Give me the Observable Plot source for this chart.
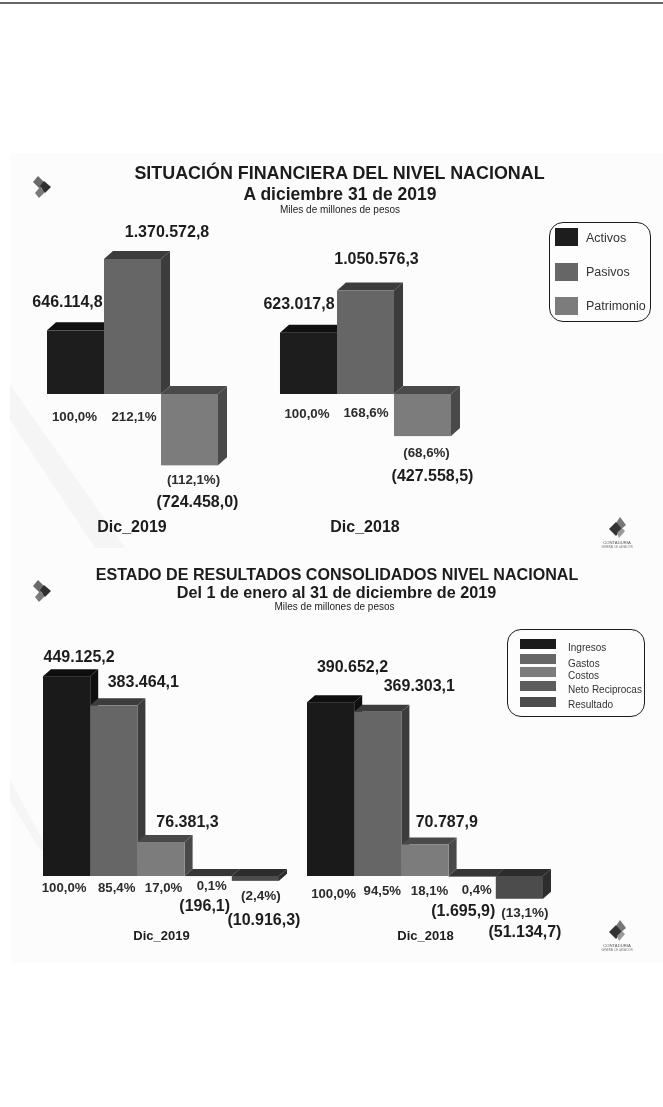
<!DOCTYPE html>
<html lang="es">
<head>
<meta charset="utf-8">
<script src="https://cdn.jsdelivr.net/npm/d3@7"></script>
<script src="https://cdn.jsdelivr.net/npm/@observablehq/plot@0.6"></script>
<style>
  html, body { margin: 0; padding: 0; background: #fff; }
  #page { position: relative; width: 663px; height: 1107px; overflow: hidden; font-family: "Liberation Sans", Arial, sans-serif; color: #1c1c1c; filter: blur(0.35px); }
  #topline { position: absolute; left: 0; top: 2px; width: 663px; height: 2px; background: #666; }
  #wash { position: absolute; left: 10px; top: 153px; width: 653px; height: 810px; background: #fcfcfc; }
  .t { position: absolute; transform: translateX(-50%); white-space: nowrap; line-height: 1; }
  .b { font-weight: bold; }
  .chart { position: absolute; left: 0; }
  .legend { position: absolute; box-sizing: border-box; border: 1.5px solid #1c1c1c; background: #fdfdfd; }
  .sw { position: absolute; }
  .lb { position: absolute; white-space: nowrap; line-height: 1; transform: translateY(-50%); color: #333; }
  #deco { position: absolute; left: 0; top: 0; }
</style>
</head>
<body>
<div id="page">
  <div id="topline"></div>
  <div id="wash"></div>
  <svg id="deco" width="663" height="1107"></svg>
</div>
<script>
// ---------- Data: situación financiera ----------
const periods = ["Dic_2019", "Dic_2018"];
const seriesA = ["Activos", "Pasivos", "Patrimonio"];
const colorsA = ["#1d1d1d", "#666666", "#7c7c7c"];
const valuesA2019 = [646114.8, 1370572.8, -724458.0];
const valuesA2018 = [623017.8, 1050576.3, -427558.5];
const pctA2019 = [100.0, 212.1, -112.1];
const pctA2018 = [100.0, 168.6, -68.6];

// ---------- Data: estado de resultados ----------
const seriesB = ["Ingresos", "Gastos", "Costos", "Neto Reciprocas", "Resultado"];
const colorsB = ["#1a1a1a", "#666666", "#7c7c7c", "#5c5c5c", "#4c4c4c"];
const valuesB2019 = [449125.2, 383464.1, 76381.3, -196.1, -10916.3];
const valuesB2018 = [390652.2, 369303.1, 70787.9, -1695.9, -51134.7];
const pctB2019 = [100.0, 85.4, 17.0, 0.1, -2.4];
const pctB2018 = [100.0, 94.5, 18.1, 0.4, -13.1];

// ---------- Label nudges (px) relative to each bar's end ----------
const nudgeValA2019 = [[-8.5, -29], [34, -28], [7.5, 36]];
const nudgeValA2018 = [[-10, -29], [10.5, -32.5], [9.5, 39]];
const nudgePctA2019 = [[-1.5, 22], [1, 22], [3.5, 14]];
const nudgePctA2018 = [[-2, 19], [0, 18], [3.5, 16]];
const nudgeValB2019 = [[12, -19.3], [29, -24.4], [26, -20.3], [-4, 29], [8, 39]];
const nudgeValB2018 = [[21.4, -35.3], [41, -26.7], [21.3, -22.8], [-9.4, 34], [5, 33]];
const nudgePctB2019 = [[-3, 11.7], [2.4, 11], [2, 11], [3, 9], [5, 14]];
const nudgePctB2018 = [[2.4, 17], [4, 14.7], [4, 14], [4, 13], [5, 13]];

const locale = d3.formatLocale({decimal: ",", thousands: ".", grouping: [3], currency: ["", ""]});
const fmtVal = locale.format("(,.1f");
const fmtPct = v => (v < 0 ? "(" : "") + locale.format(".1f")(Math.abs(v)) + "%" + (v < 0 ? ")" : "");

function rows(series, period, values, pcts, nv, np) {
  return series.map((s, i) => ({
    serie: s, period, value: values[i], pct: pcts[i],
    vdx: nv[i][0], vdy: nv[i][1], pdx: np[i][0], pdy: np[i][1]
  }));
}

// Extruded bars: the library draws the front rects; faces are added behind each.
function extrude(dx, dy) {
  return function (index, scales, values, dimensions, context, next) {
    const g = next(index, scales, values, dimensions, context);
    const ns = "http://www.w3.org/2000/svg";
    for (const r of Array.from(g.querySelectorAll("rect"))) {
      const x = +r.getAttribute("x"), y = +r.getAttribute("y");
      const w = +r.getAttribute("width"), h = +r.getAttribute("height");
      const fill = r.getAttribute("fill");
      const dark = d3.color(fill).darker(1.5).formatHex();
      const top = document.createElementNS(ns, "polygon");
      top.setAttribute("points", `${x},${y} ${x + dx},${y - dy} ${x + w + dx},${y - dy} ${x + w},${y}`);
      top.setAttribute("fill", dark);
      const side = document.createElementNS(ns, "polygon");
      side.setAttribute("points", `${x + w},${y} ${x + w + dx},${y - dy} ${x + w + dx},${y + h - dy} ${x + w},${y + h}`);
      side.setAttribute("fill", dark);
      g.insertBefore(top, r);
      g.insertBefore(side, r);
    }
    return g;
  };
}

function chart(cfg) {
  const data = cfg.data;
  const valueMarks = data.map(d => Plot.text([d], {
    fx: "period", x: "serie", y: "value", text: r => fmtVal(r.value),
    dx: d.vdx, dy: d.vdy, fontSize: cfg.valSize, fontWeight: "bold", fill: "#1c1c1c"
  }));
  const pctMarks = data.map(d => Plot.text([d], {
    fx: "period", x: "serie", y: r => Math.min(r.value, 0), text: r => fmtPct(r.pct),
    dx: d.pdx, dy: d.pdy, fontSize: d.pct < 0 ? cfg.negPctSize : cfg.pctSize, fontWeight: "bold", fill: "#2c2c2c"
  }));
  return Plot.plot({
    width: 663,
    height: cfg.height,
    marginTop: cfg.marginTop, marginBottom: cfg.marginBottom,
    marginLeft: cfg.marginLeft, marginRight: cfg.marginRight,
    style: {background: "transparent", fontFamily: '"Liberation Sans", Arial, sans-serif', overflow: "visible"},
    fx: {domain: periods, paddingInner: cfg.padInner, paddingOuter: 0, round: false, axis: null},
    x: {domain: cfg.series, padding: 0, round: false, axis: null},
    y: {domain: cfg.yDomain, axis: null},
    color: {domain: cfg.series, range: cfg.colors},
    marks: [
      Plot.barY(data, {fx: "period", x: "serie", y: "value", fill: "serie", render: extrude(cfg.dx, cfg.dy)}),
      ...valueMarks,
      ...pctMarks,
      Plot.axisFx({anchor: "bottom", tickSize: 0, tickPadding: cfg.tickPad, fontSize: cfg.tickSize, fontWeight: "bold", label: null, fill: "#1c1c1c", dx: cfg.tickDx})
    ]
  });
}

const page = document.getElementById("page");
function place(el, top) { el.classList.add("chart"); el.style.top = top + "px"; page.appendChild(el); }

place(chart({
  data: [...rows(seriesA, periods[0], valuesA2019, pctA2019, nudgeValA2019, nudgePctA2019),
         ...rows(seriesA, periods[1], valuesA2018, pctA2018, nudgeValA2018, nudgePctA2018)],
  series: seriesA, colors: colorsA,
  height: 322, marginTop: 10, marginBottom: 20, marginLeft: 47, marginRight: 212,
  padInner: 0.266, yDomain: [-1279188, 1685279], dx: 9, dy: 8,
  valSize: 16, pctSize: 13.3, negPctSize: 13.3, tickSize: 16, tickPad: 0, tickDx: -1
}), 218);

place(chart({
  data: [...rows(seriesB, periods[0], valuesB2019, pctB2019, nudgeValB2019, nudgePctB2019),
         ...rows(seriesB, periods[1], valuesB2018, pctB2018, nudgeValB2018, nudgePctB2018)],
  series: seriesB, colors: colorsB,
  height: 330, marginTop: 0, marginBottom: 30, marginLeft: 43, marginRight: 120,
  padInner: 0.106, yDomain: [-98876, 575281], dx: 8, dy: 7,
  valSize: 16, pctSize: 13.2, negPctSize: 13.5, tickSize: 13, tickPad: 10, tickDx: 0
}), 620);

// ---------- Titles ----------
const titles = [
  ["SITUACIÓN FINANCIERA DEL NIVEL NACIONAL", 339.5, 165, 17.9, true],
  ["A diciembre 31 de 2019", 340, 186, 17.5, true],
  ["Miles de millones de pesos", 340, 205, 10, false],
  ["ESTADO DE RESULTADOS CONSOLIDADOS NIVEL NACIONAL", 337, 566, 16.1, true],
  ["Del 1 de enero al 31 de diciembre de 2019", 336.5, 584, 16.2, true],
  ["Miles de millones de pesos", 334.5, 602, 10, false]
];
for (const [text, cx, top, size, bold] of titles) {
  const d = document.createElement("div");
  d.className = "t" + (bold ? " b" : "");
  d.textContent = text;
  d.style.cssText = `left:${cx}px;top:${top}px;font-size:${size}px`;
  page.appendChild(d);
}

// ---------- Legends ----------
function legend(box, series, colors, swatch, labelX, rowsY, labelY, size, radius) {
  const el = document.createElement("div");
  el.className = "legend";
  el.style.cssText = `left:${box[0]}px;top:${box[1]}px;width:${box[2]}px;height:${box[3]}px;border-radius:${radius}px`;
  series.forEach((s, i) => {
    const sw = document.createElement("div");
    sw.className = "sw";
    sw.style.cssText = `left:${swatch[0]}px;top:${rowsY[i]}px;width:${swatch[1]}px;height:${swatch[2]}px;background:${colors[i]}`;
    el.appendChild(sw);
    const lb = document.createElement("div");
    lb.className = "lb";
    lb.textContent = s;
    lb.style.cssText = `left:${labelX}px;top:${labelY[i]}px;font-size:${size}px`;
    el.appendChild(lb);
  });
  page.appendChild(el);
}
legend([549, 222, 102, 100], seriesA, colorsA, [5, 23, 18], 36, [5, 40, 74], [15, 49, 83], 12.5, 14);
legend([507, 629, 138, 88], seriesB, colorsB, [12, 36, 10], 60, [9, 24, 37, 51, 67], [18, 34, 46, 60, 75], 10, 14);

// ---------- Decorations ----------
const deco = d3.select("#deco");
// faint background swooshes
deco.append("polygon").attr("points", "10,385 10,420 95,548 125,548").attr("fill", "#f5f5f5");
deco.append("polygon").attr("points", "10,780 10,800 40,850 48,850").attr("fill", "#f5f5f5");
function chevron(cx, cy) {
  const g = deco.append("g").attr("transform", `translate(${cx},${cy})`);
  g.append("polygon").attr("points", "-9,-5 -4,-11 3,-4 -2,2").attr("fill", "#6a6a6a");
  g.append("polygon").attr("points", "-7,6 -2,0 3,5 -3,11").attr("fill", "#7a7a7a");
  g.append("polygon").attr("points", "-2,-1 2,-6 9,0 3,6").attr("fill", "#2e2e2e");
}
chevron(42, 187);
chevron(42, 591);
function logo(cx, cy, ty) {
  const g = deco.append("g").attr("transform", `translate(${cx},${cy})`);
  g.append("polygon").attr("points", "3,-11 9,-3 2,3 -3,-2").attr("fill", "#777");
  g.append("polygon").attr("points", "-8,1 -1,-6 5,1 -1,8").attr("fill", "#333");
  g.append("polygon").attr("points", "0,5 5,0 8,3 2,10").attr("fill", "#999");
  deco.append("text").attr("x", cx).attr("y", ty).attr("text-anchor", "middle").attr("font-size", 4.2)
    .attr("font-family", '"Liberation Sans", Arial, sans-serif').attr("fill", "#555").text("CONTADURÍA");
  deco.append("text").attr("x", cx).attr("y", ty + 3.5).attr("text-anchor", "middle").attr("font-size", 2.6)
    .attr("font-family", '"Liberation Sans", Arial, sans-serif').attr("fill", "#777").text("GENERAL DE LA NACIÓN");
}
logo(617, 528, 544);
logo(617, 931, 947);
</script>
</body>
</html>
